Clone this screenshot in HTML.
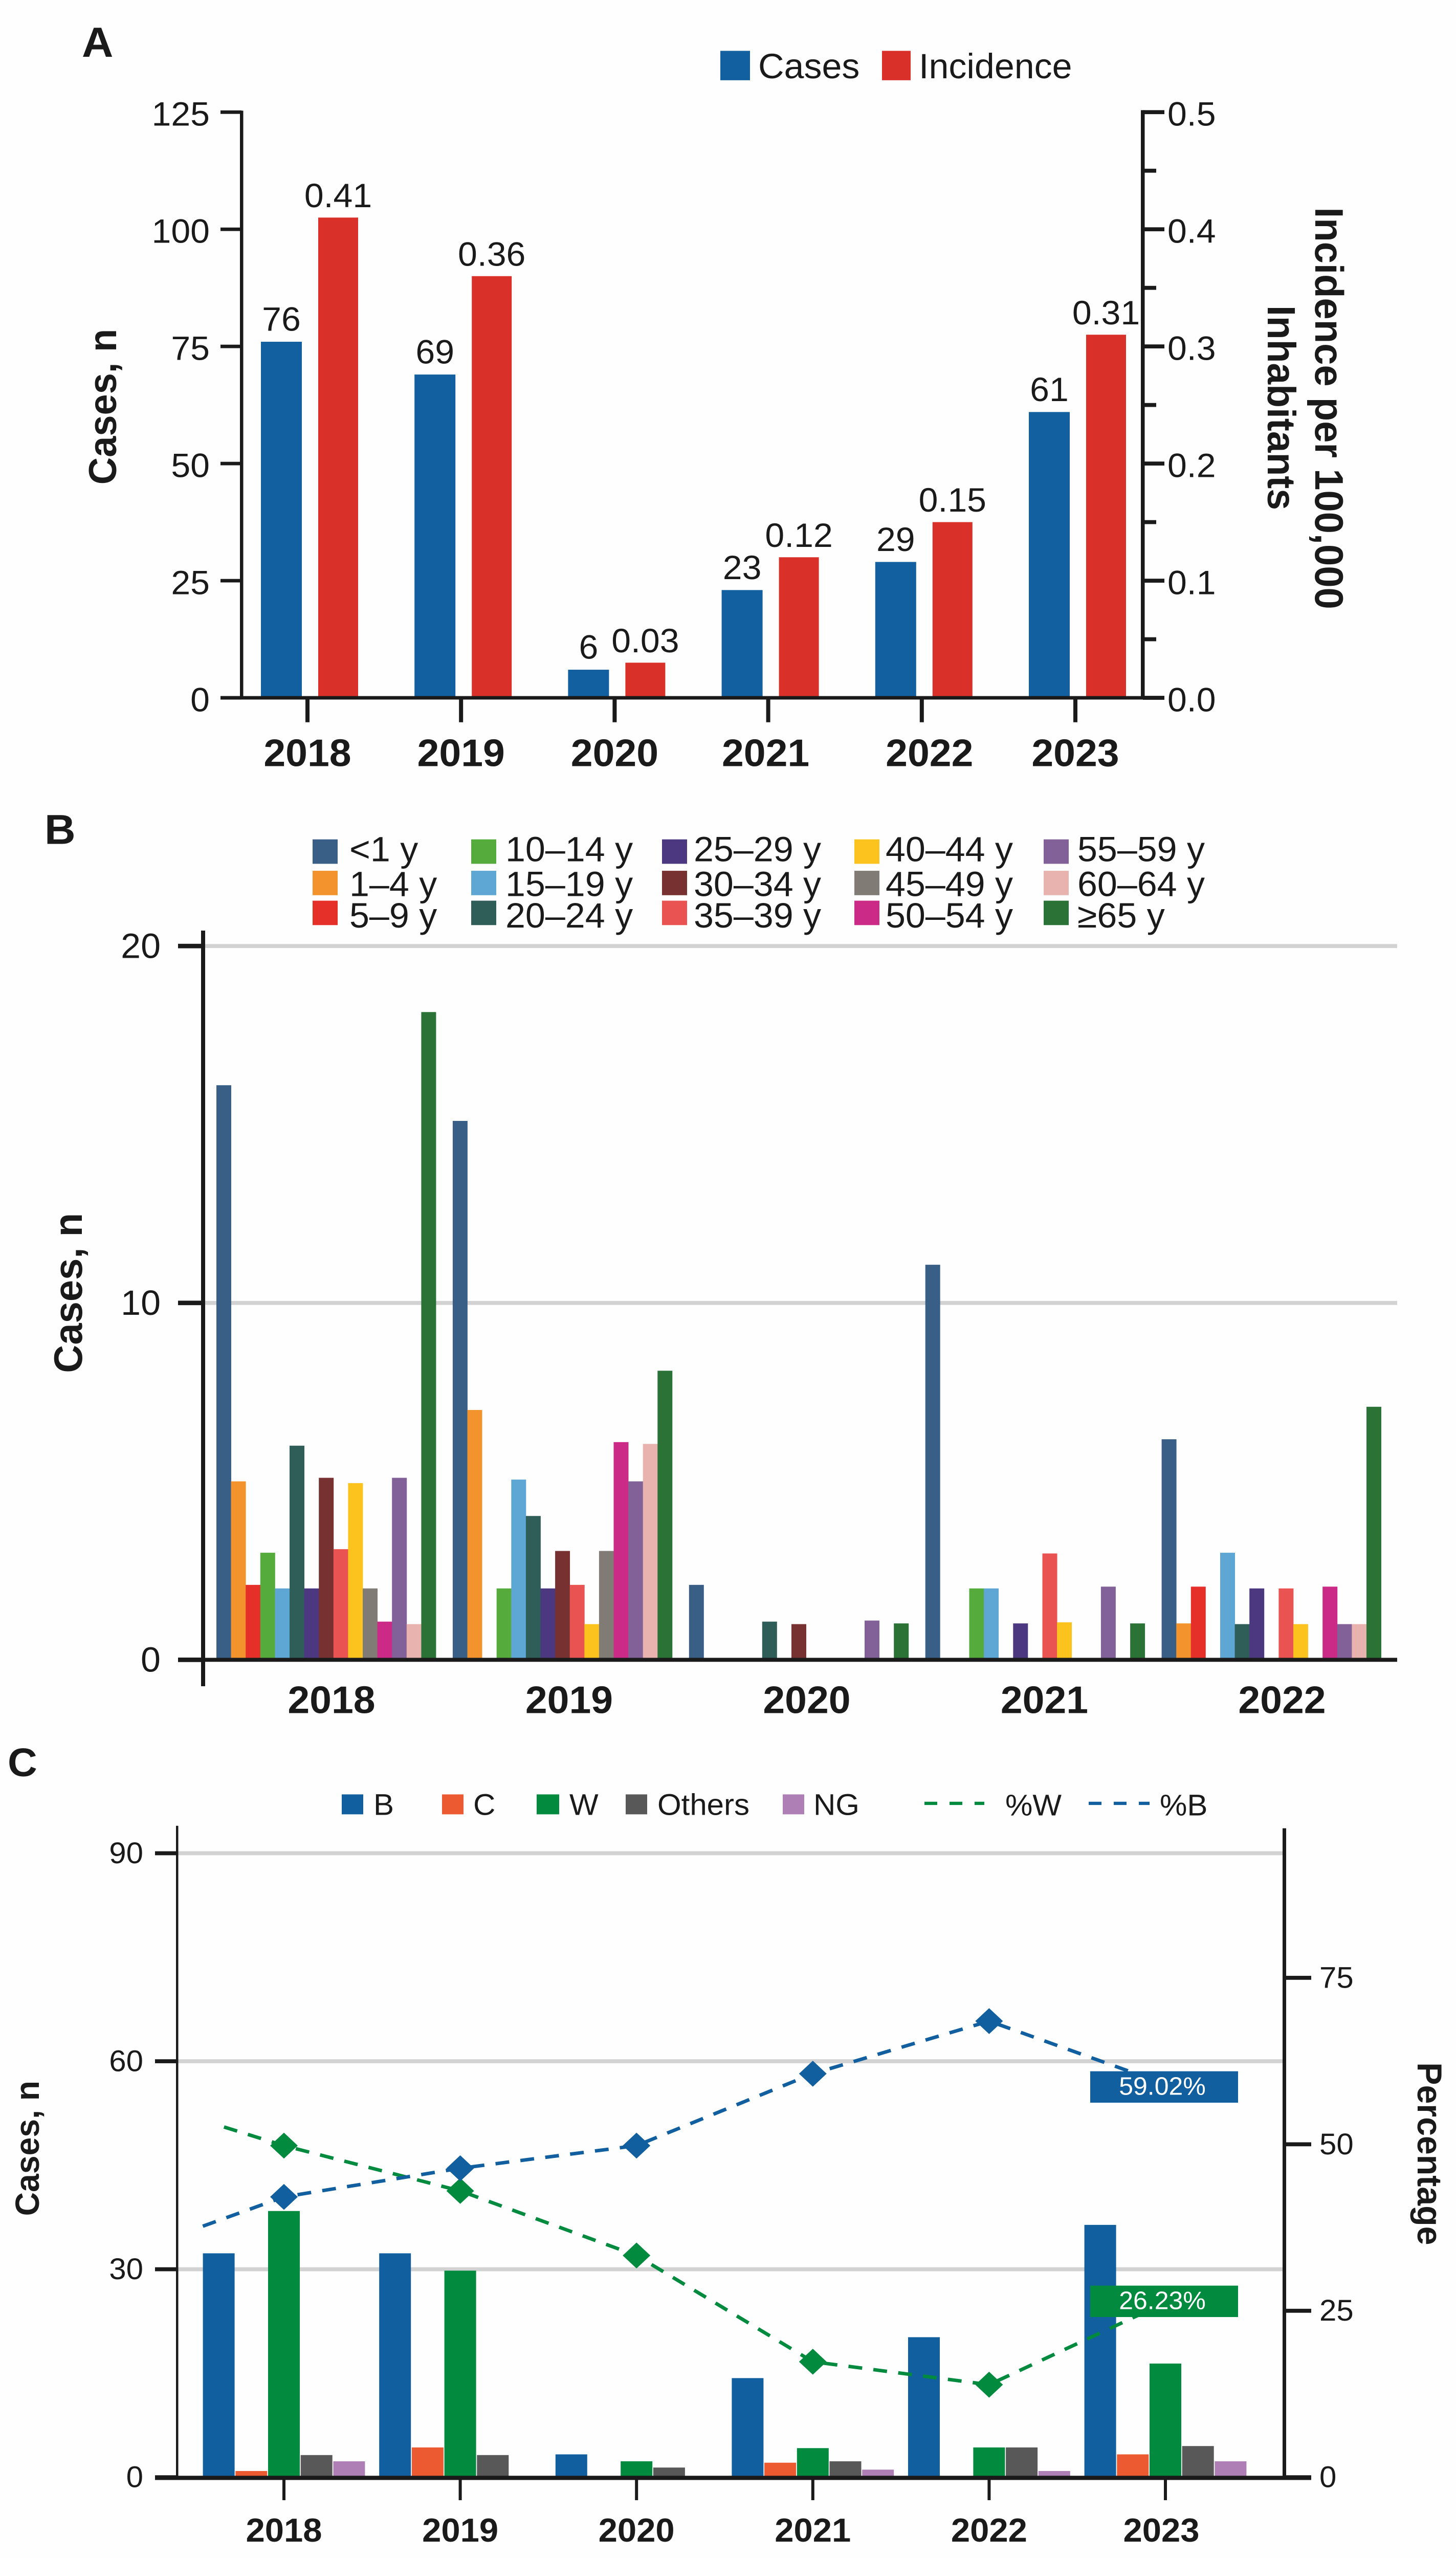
<!DOCTYPE html>
<html lang="en">
<head>
<meta charset="utf-8">
<title>Cases and incidence by year, age group and serogroup</title>
<style>
html,body{margin:0;padding:0;background:#fefefe;width:100%;height:100%;overflow:hidden;}
svg{display:block;width:100vw;height:100vh;}
text{font-family:"Liberation Sans",Arial,sans-serif;fill:#1a1a1a;}
.b{font-weight:bold;}
</style>
</head>
<body>
<svg id="chart" xmlns="http://www.w3.org/2000/svg" viewBox="0 0 2846 5132" preserveAspectRatio="none">
<rect x="0" y="0" width="2846" height="5132" fill="#fefefe"/>

<!-- Panel A static -->
<text class="b" x="160" y="114" font-size="85">A</text>
<rect x="1408" y="102" width="58" height="59" fill="#12609f"/>
<text x="1482" y="157" font-size="70">Cases</text>
<rect x="1724" y="102" width="56" height="59" fill="#d9302a"/>
<text x="1796" y="157" font-size="70">Incidence</text>
<text class="b" font-size="76" text-anchor="middle" transform="translate(227 816) rotate(-90)">Cases, n</text>
<text class="b" font-size="78" text-anchor="middle" transform="translate(2571 819) rotate(90)">Incidence per 100,000</text>
<text class="b" font-size="77" text-anchor="middle" transform="translate(2478 818) rotate(90)">Inhabitants</text>

<!-- Panel B static -->
<text class="b" x="87" y="1693" font-size="84">B</text>
<text class="b" font-size="78" text-anchor="middle" transform="translate(160 2594) rotate(-90)">Cases, n</text>
<g font-size="70">
<rect x="611" y="1684" width="49" height="49" fill="#3a5f87"/>
<text x="683" y="1728">&lt;1 y</text>
<rect x="611" y="1747" width="49" height="49" fill="#f2932d"/>
<text x="683" y="1798">1–4 y</text>
<rect x="611" y="1807" width="49" height="49" fill="#e5302a"/>
<text x="683" y="1861">5–9 y</text>
<rect x="921" y="1684" width="49" height="49" fill="#55ab3c"/>
<text x="988" y="1728">10–14 y</text>
<rect x="921" y="1747" width="49" height="49" fill="#5ea6d4"/>
<text x="988" y="1798">15–19 y</text>
<rect x="921" y="1807" width="49" height="49" fill="#2f5d58"/>
<text x="988" y="1861">20–24 y</text>
<rect x="1294" y="1684" width="49" height="49" fill="#4c3880"/>
<text x="1356" y="1728">25–29 y</text>
<rect x="1294" y="1747" width="49" height="49" fill="#783131"/>
<text x="1356" y="1798">30–34 y</text>
<rect x="1294" y="1807" width="49" height="49" fill="#e95352"/>
<text x="1356" y="1861">35–39 y</text>
<rect x="1670" y="1684" width="49" height="49" fill="#fcc31e"/>
<text x="1731" y="1728">40–44 y</text>
<rect x="1670" y="1747" width="49" height="49" fill="#817b75"/>
<text x="1731" y="1798">45–49 y</text>
<rect x="1670" y="1807" width="49" height="49" fill="#cc2a87"/>
<text x="1731" y="1861">50–54 y</text>
<rect x="2040" y="1684" width="49" height="49" fill="#826098"/>
<text x="2106" y="1728">55–59 y</text>
<rect x="2040" y="1747" width="49" height="49" fill="#e8b3ae"/>
<text x="2106" y="1798">60–64 y</text>
<rect x="2040" y="1807" width="49" height="49" fill="#2a7236"/>
<text x="2106" y="1861">≥65 y</text>
</g>

<!-- Panel C static -->
<text class="b" x="15" y="3563" font-size="80">C</text>
<text class="b" font-size="66" text-anchor="middle" transform="translate(76 4310) rotate(-90)">Cases, n</text>
<text class="b" font-size="68" text-anchor="middle" transform="translate(2771 4321) rotate(90)">Percentage</text>
<g font-size="60">
<rect x="668" y="3600" width="42" height="40" fill="#115f9f"/>
<text x="730" y="3641">B</text>
<rect x="864" y="3600" width="42" height="40" fill="#ec5a31"/>
<text x="925" y="3641">C</text>
<rect x="1049" y="3600" width="44" height="40" fill="#028a3f"/>
<text x="1113" y="3641">W</text>
<rect x="1223" y="3600" width="42" height="40" fill="#585858"/>
<text x="1285" y="3641">Others</text>
<rect x="1530" y="3600" width="42" height="40" fill="#ad7fb5"/>
<text x="1590" y="3641">NG</text>
<line x1="1807" y1="3618" x2="1924" y2="3618" stroke="#028a3f" stroke-width="6.5" stroke-dasharray="25 24"/>
<text x="1965" y="3642">%W</text>
<line x1="2128" y1="3618" x2="2247" y2="3618" stroke="#115f9f" stroke-width="6.5" stroke-dasharray="25 24"/>
<text x="2267" y="3642">%B</text>
</g>
</svg>

<script>
/* ---------- Panel A data ---------- */
const yearsA = ['2018', '2019', '2020', '2021', '2022', '2023'];
const casesA = [76, 69, 6, 23, 29, 61];
const incidenceA = [0.41, 0.36, 0.03, 0.12, 0.15, 0.31];
const casesTicksA = [0, 25, 50, 75, 100, 125];
const incidenceTicksA = ['0.0', '0.1', '0.2', '0.3', '0.4', '0.5'];
const incidenceMinorTicksA = [0.05, 0.15, 0.25, 0.35, 0.45];

/* ---------- Panel B data ---------- */
const yearsB = ['2018', '2019', '2020', '2021', '2022'];
const ageGroups = ['<1 y', '1-4 y', '5-9 y', '10-14 y', '15-19 y', '20-24 y', '25-29 y', '30-34 y', '35-39 y', '40-44 y', '45-49 y', '50-54 y', '55-59 y', '60-64 y', '65+ y'];
const ageCases2018 = [16.1, 5, 2.1, 3, 2, 6, 2, 5.1, 3.1, 4.95, 2, 1.07, 5.1, 1, 18.15];
const ageCases2019 = [15.1, 7, 0, 2, 5.05, 4.03, 2, 3.05, 2.1, 1, 3.05, 6.1, 5, 6.05, 8.1];
const ageCases2020 = [2.1, 0, 0, 0, 0, 1.07, 0, 1, 0, 0, 0, 0, 1.1, 0, 1.02];
const ageCases2021 = [11.07, 0, 0, 2, 2, 0, 1.02, 0, 2.98, 1.05, 0, 0, 2.05, 0, 1.02];
const ageCases2022 = [6.18, 1.02, 2.05, 0, 3, 1, 2, 0, 2, 1, 0, 2.05, 1, 1, 7.09];
const ageCasesByYear = [ageCases2018, ageCases2019, ageCases2020, ageCases2021, ageCases2022];
const casesTicksB = [0, 10, 20];
const ageColors = ['#3a5f87', '#f2932d', '#e5302a', '#55ab3c', '#5ea6d4', '#2f5d58', '#4c3880', '#783131', '#e95352', '#fcc31e', '#817b75', '#cc2a87', '#826098', '#e8b3ae', '#2a7236'];

/* ---------- Panel C data ---------- */
const yearsC = ['2018', '2019', '2020', '2021', '2022', '2023'];
const serogroups = ['B', 'C', 'W', 'Others', 'NG'];
const casesSeroB = [32.3, 32.3, 3.3, 14.3, 20.2, 36.4];
const casesSeroC = [0.9, 4.3, 0, 2.1, 0, 3.3];
const casesSeroW = [38.4, 29.8, 2.3, 4.2, 4.3, 16.4];
const casesSeroOthers = [3.2, 3.2, 1.4, 2.3, 4.3, 4.5];
const casesSeroNG = [2.3, 0, 0, 1.1, 0.9, 2.3];
const casesBySerogroup = [casesSeroB, casesSeroC, casesSeroW, casesSeroOthers, casesSeroNG];
const percentB = [42.1, 46.4, 49.8, 60.6, 68.5, 59.02];
const percentW = [49.8, 43, 33.3, 17.35, 13.9, 26.23];
const percentBLeadIn = [-0.46, 37.7];
const percentWLeadIn = [-0.34, 52.6];
const casesTicksC = [0, 30, 60, 90];
const percentTicksC = [0, 25, 50, 75];
const seroColors = ['#115f9f', '#ec5a31', '#028a3f', '#585858', '#ad7fb5'];

/* ---------- Axis functions ---------- */
const xA = i => 601 + i * 300.2;
const yA = v => 1400 - v * 9.4;
const yAR = v => 1400 - v * 2350;
const xB = (g, s) => 423 + g * 461.9 + s * 28.6;
const xBLabel = g => 648 + g * 464.5;
const yB = v => 3330 - v * 71.6;
const xC = i => 555 + i * 344.6;
const yC = v => 4970 - v * 13.91;
const yCR = p => 4970 - p * 13.36;

const INK = '#1a1a1a';
const NS = 'http://www.w3.org/2000/svg';
const root = document.getElementById('chart');

function make(tag, attrs, content) {
  const n = document.createElementNS(NS, tag);
  for (const k in attrs) n.setAttribute(k, attrs[k]);
  if (content !== undefined) n.textContent = content;
  root.appendChild(n);
  return n;
}
function box(x, y, w, h, fill) {
  return make('rect', { x: x, y: y, width: w, height: h, fill: fill });
}
function label(x, y, size, anchor, str, bold, fill) {
  const at = { x: x, y: y, 'font-size': size, 'text-anchor': anchor };
  if (bold) at['class'] = 'b';
  if (fill) at['style'] = 'fill:' + fill;
  return make('text', at, str);
}
let el;

/* ---------- Panel A ---------- */
yearsA.forEach((year, i) => {
  el = box(xA(i) - 91, yA(casesA[i]), 80, 1400 - yA(casesA[i]), '#12609f');
  
  
  el = box(xA(i) + 21, yAR(incidenceA[i]), 78, 1400 - yAR(incidenceA[i]), '#d9302a');
  
  
  el = label(xA(i) - 51, yA(casesA[i]) - 22, 68, 'middle', String(casesA[i]));
  
  
  el = label(xA(i) + 60, yAR(incidenceA[i]) - 21, 68, 'middle', incidenceA[i].toFixed(2));
  
  
  el = box(xA(i) - 4, 1400, 8, 49, INK);
  
  
  const nudgeA = year === '2022' ? 15 : (year === '2021' ? -5 : 0);
  el = label(xA(i) + nudgeA, 1537, 77, 'middle', year, true);
  
  
});
el = box(469, yA(125) - 3, 6.5, 1400 - yA(125) + 3, INK);


el = box(2230, yA(125) - 4, 7.5, 1400 - yA(125) + 4, INK);


el = box(431, 1396.5, 1845, 7, INK);


casesTicksA.forEach(v => {
  el = box(431, yA(v) - 3.5, 41, 7, INK);
  
  
  el = label(410, yA(v) + 27, 68, 'end', String(v));
  
  
});
incidenceTicksA.forEach(t => {
  el = box(2234, yAR(+t) - 4, 42, 8, INK);
  
  
  el = label(2282, yAR(+t) + 27, 68, 'start', t);
  
  
});
incidenceMinorTicksA.forEach(v => {
  el = box(2234, yAR(v) - 4, 26, 8, INK);
  
  
});

/* ---------- Panel B ---------- */
casesTicksB.forEach(v => {
  if (v > 0) {
    el = box(397, yB(v) - 4, 2334, 8, '#d2d2d2');
    
    
  }
});
ageCasesByYear.forEach((vals, g) => {
  vals.forEach((v, s) => {
    if (v <= 0) return;
    el = box(xB(g, s), yB(v), 29, 3330 - yB(v), ageColors[s]);
    
    
  });
  el = label(xBLabel(g), 3437, 77, 'middle', yearsB[g], true);
  
  
});
el = box(393, 1867, 8, 1516, INK);


el = box(348, 3326, 2383, 8, INK);


casesTicksB.forEach(v => {
  el = box(348, yB(v) - 4.5, 49, 9, INK);
  
  
  el = label(314, yB(v) + 24, 70, 'end', String(v));
  
  
});

/* ---------- Panel C ---------- */
casesTicksC.forEach(v => {
  if (v > 0) {
    el = box(347, yC(v) - 4, 2163, 8, '#d2d2d2');
    
    
  }
});
casesBySerogroup.forEach((vals, s) => {
  vals.forEach((v, i) => {
    if (v <= 0) return;
    el = box(xC(i) + (s - 2) * 63.7 - 31, yC(v), 62, 4970 - yC(v), seroColors[s]);
    
    
  });
});
el = box(344, 3663, 4.5, 1307, INK);


el = box(2507, 3668, 7, 1302, INK);


el = box(303, 4967, 2260, 8.5, INK);


casesTicksC.forEach(v => {
  el = box(303, yC(v) - 4, 44, 8, INK);
  
  
  el = label(280, yC(v) + 20, 60, 'end', String(v));
  
  
});
percentTicksC.forEach(v => {
  el = box(2510, yCR(v) - 4, 53, 8, INK);
  
  
  el = label(2579, yCR(v) + 20, 60, 'start', String(v));
  
  
});
yearsC.forEach((year, i) => {
  el = box(xC(i) - 3, 4970, 6, 46, INK);
  
  
  el = label(xC(i) + (year === '2023' ? -8 : 0), 5099, 67, 'middle', year, true);
  
  
});

function drawPercent(series, leadIn, color, key, boxShift) {
  const pts = [[xC(leadIn[0]), yCR(leadIn[1])]].concat(series.map((p, i) => [xC(i), yCR(p)]));
  el = make('polyline', {
    points: pts.map(p => p.join(',')).join(' '),
    fill: 'none', stroke: color, 'stroke-width': 7, 'stroke-dasharray': '27 22'
  });
  
  
  series.forEach((p, i) => {
    if (i === series.length - 1) return;
    const cx = xC(i), cy = yCR(p);
    el = make('polygon', {
      points: [cx - 27, cy, cx, cy - 26, cx + 27, cy, cx, cy + 26].join(' '),
      fill: color
    });
    
    
  });
  const last = series.length - 1;
  const top = yCR(series[last]) + boxShift;
  el = box(xC(last) - 147, top, 289, 63, color);
  
  
  el = label(xC(last) - 6, top + 47, 50, 'middle', series[last].toFixed(2) + '%', false, '#ffffff');
  
  
}
drawPercent(percentW, percentWLeadIn, seroColors[2], 'w', -34);
drawPercent(percentB, percentBLeadIn, seroColors[0], 'b', -26);
</script>
</body>
</html>
